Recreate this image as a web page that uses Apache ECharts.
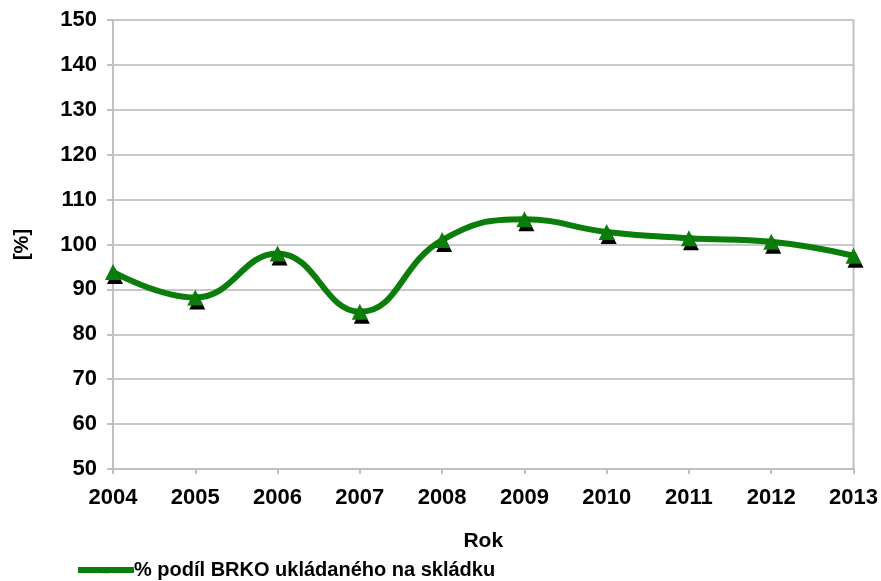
<!DOCTYPE html>
<html>
<head>
<meta charset="utf-8">
<script src="https://cdn.jsdelivr.net/npm/echarts@6/dist/echarts.min.js"></script>
<style>
	html, body { margin: 0; padding: 0; background: #fff; }
	#chart { width: 881px; height: 581px; }
</style>
</head>
<body>
<div id="chart"></div>
<script>
	var years = ['2004', '2005', '2006', '2007', '2008', '2009', '2010', '2011', '2012', '2013'];
	var podil = [93.9, 88.2, 98, 85, 101, 105.6, 102.8, 101.4, 100.6, 97.5];
	var seriesName = '% podíl BRKO ukládaného na skládku';

	var myChart = echarts.init(document.getElementById('chart'));
	var font = 'Liberation Sans, Arial, sans-serif';

	var option = {
		animation: false,
		grid: { left: 113, right: 26, top: 20, bottom: 112 },
		legend: {
			left: 70,
			top: 555,
			itemWidth: 56,
			itemHeight: 8,
			itemGap: 2,
			lineStyle: { width: 6 },
			textStyle: { fontFamily: font, fontSize: 20, fontWeight: 'bold', color: '#000', padding: [0, 0, 0, -5] },
			data: [seriesName]
		},
		xAxis: {
			type: 'category',
			data: years,
			boundaryGap: false,
			name: 'Rok',
			nameLocation: 'middle',
			nameGap: 62,
			nameTextStyle: { fontFamily: font, fontSize: 21, fontWeight: 'bold', color: '#000' },
			axisLine: { lineStyle: { color: '#bfbfbf', width: 2 } },
			axisTick: { show: true, length: 5, lineStyle: { color: '#bfbfbf', width: 2 } },
			axisLabel: { fontFamily: font, fontSize: 22, fontWeight: 'bold', color: '#000', margin: 18 },
			splitLine: { show: false }
		},
		yAxis: {
			type: 'value',
			min: 50,
			max: 150,
			interval: 10,
			name: '[%]',
			nameLocation: 'middle',
			nameGap: 81,
			nameRotate: 90,
			nameTextStyle: { fontFamily: font, fontSize: 20, fontWeight: 'bold', color: '#000' },
			axisLine: { show: true, lineStyle: { color: '#bfbfbf', width: 2 } },
			axisTick: { show: true, length: 6, lineStyle: { color: '#bfbfbf', width: 2 } },
			axisLabel: { fontFamily: font, fontSize: 22, fontWeight: 'bold', color: '#000', margin: 16 },
			splitLine: { lineStyle: { color: '#c8c8c8', width: 2 } }
		},
		series: [
			{
				name: seriesName,
				type: 'line',
				data: podil,
				smooth: 0.45,
				symbol: 'triangle',
				symbolSize: 16,
				lineStyle: { color: '#0a7d0a', width: 6 },
				itemStyle: {
					color: '#0a7d0a',
					shadowColor: '#000',
					shadowOffsetX: 2,
					shadowOffsetY: 4,
					shadowBlur: 0
				}
			},
			{
				type: 'line',
				data: [[9, 50], [9, 150]],
				symbol: 'none',
				silent: true,
				lineStyle: { color: '#bfbfbf', width: 2 }
			}
		]
	};

	option && myChart.setOption(option);
</script>
</body>
</html>
